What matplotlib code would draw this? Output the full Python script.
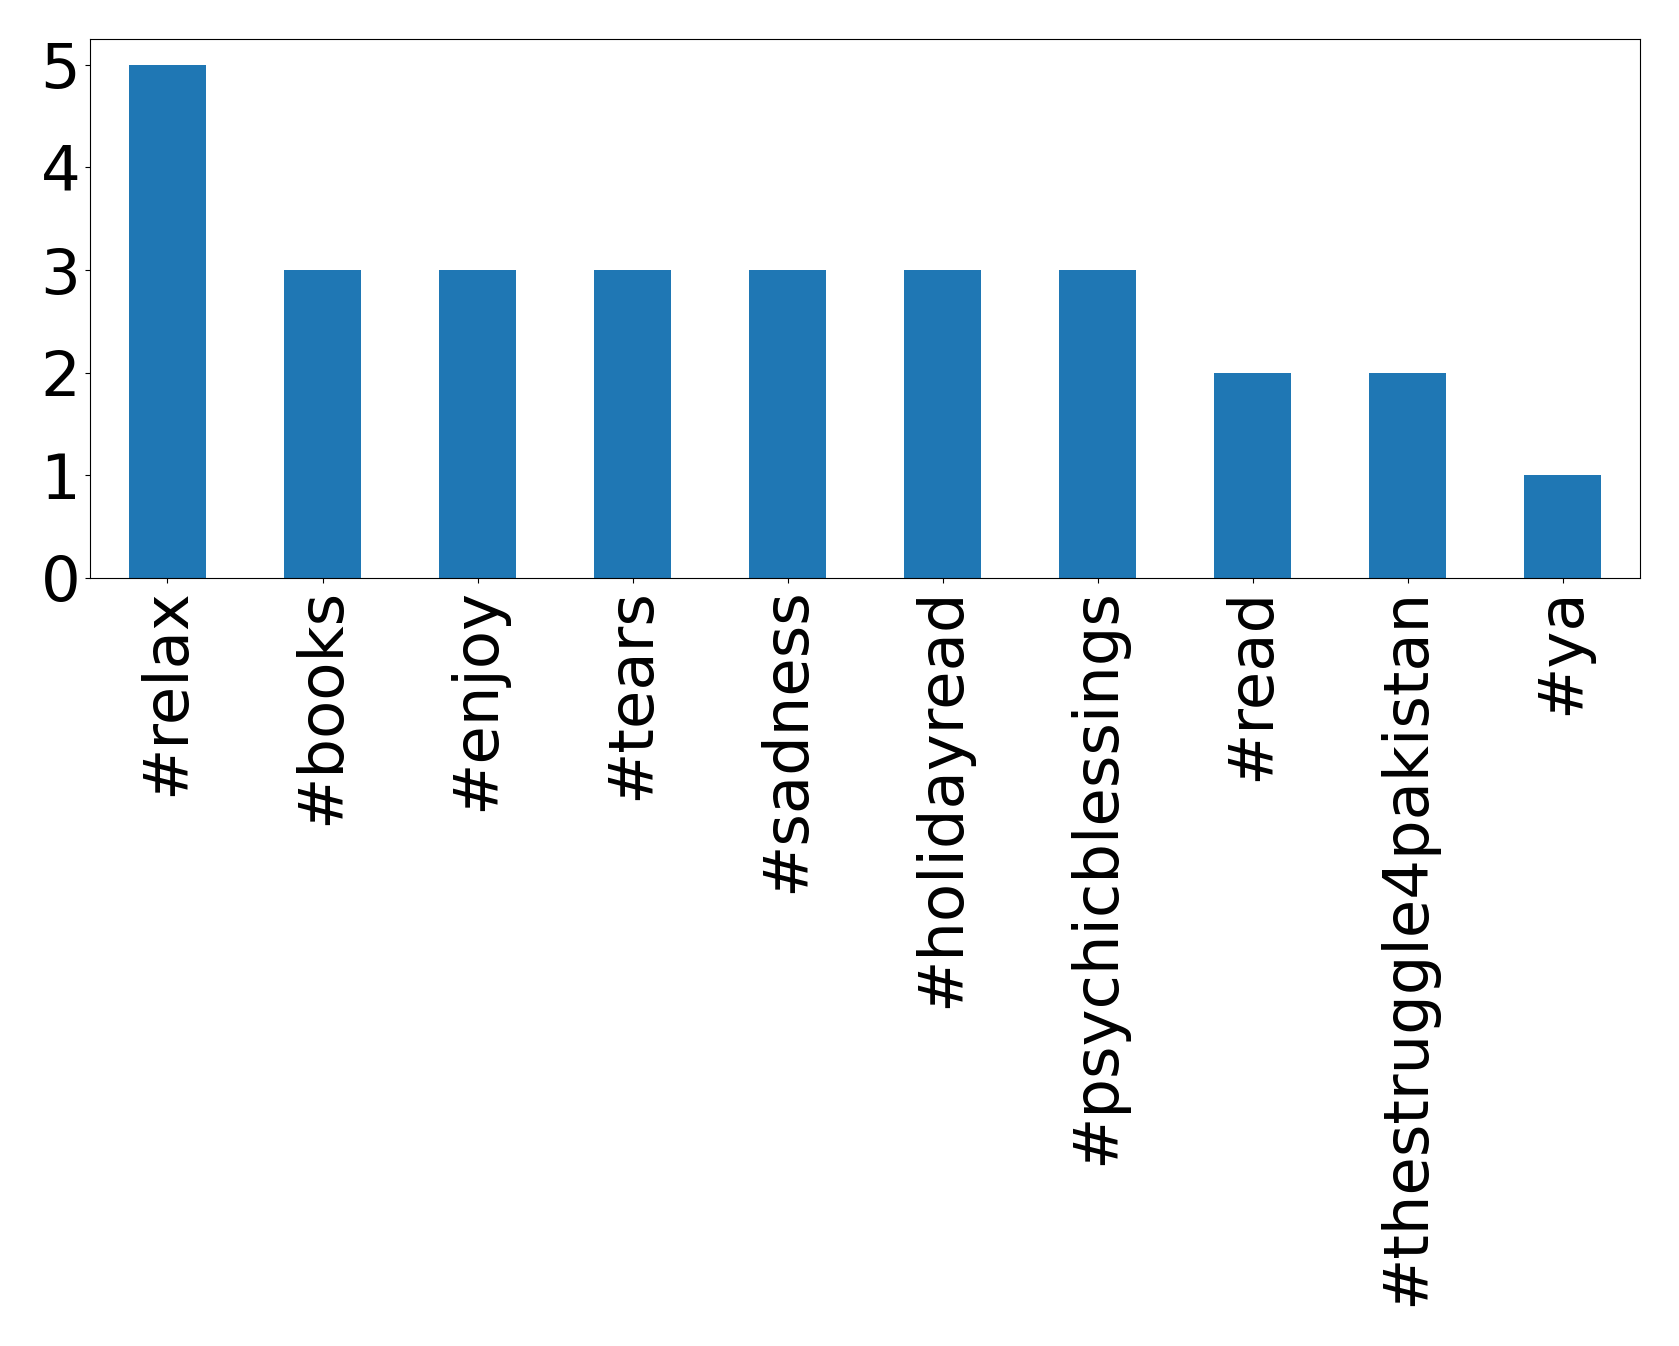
import matplotlib
matplotlib.use("Agg")
import matplotlib.pyplot as plt

hashtags = ["#relax", "#books", "#enjoy", "#tears", "#sadness", "#holidayread",
            "#psychicblessings", "#read", "#thestruggle4pakistan", "#ya"]
counts = [5, 3, 3, 3, 3, 3, 3, 2, 2, 1]

fig = plt.figure(figsize=(16.79, 13.46), dpi=100)
ax = fig.add_axes([0.0536, 0.5706, 0.9232, 0.4004])

positions = range(len(hashtags))
ax.bar(positions, counts, width=0.5, color="#1f77b4")
ax.set_xlim(-0.5, len(hashtags) - 0.5)
ax.set_ylim(0, 5.25)
ax.set_xticks(list(positions))
ax.set_xticklabels(hashtags, rotation=90)
ax.set_yticks(range(6))
ax.tick_params(axis="both", labelsize=45)

fig.savefig("out.png", dpi=100)
